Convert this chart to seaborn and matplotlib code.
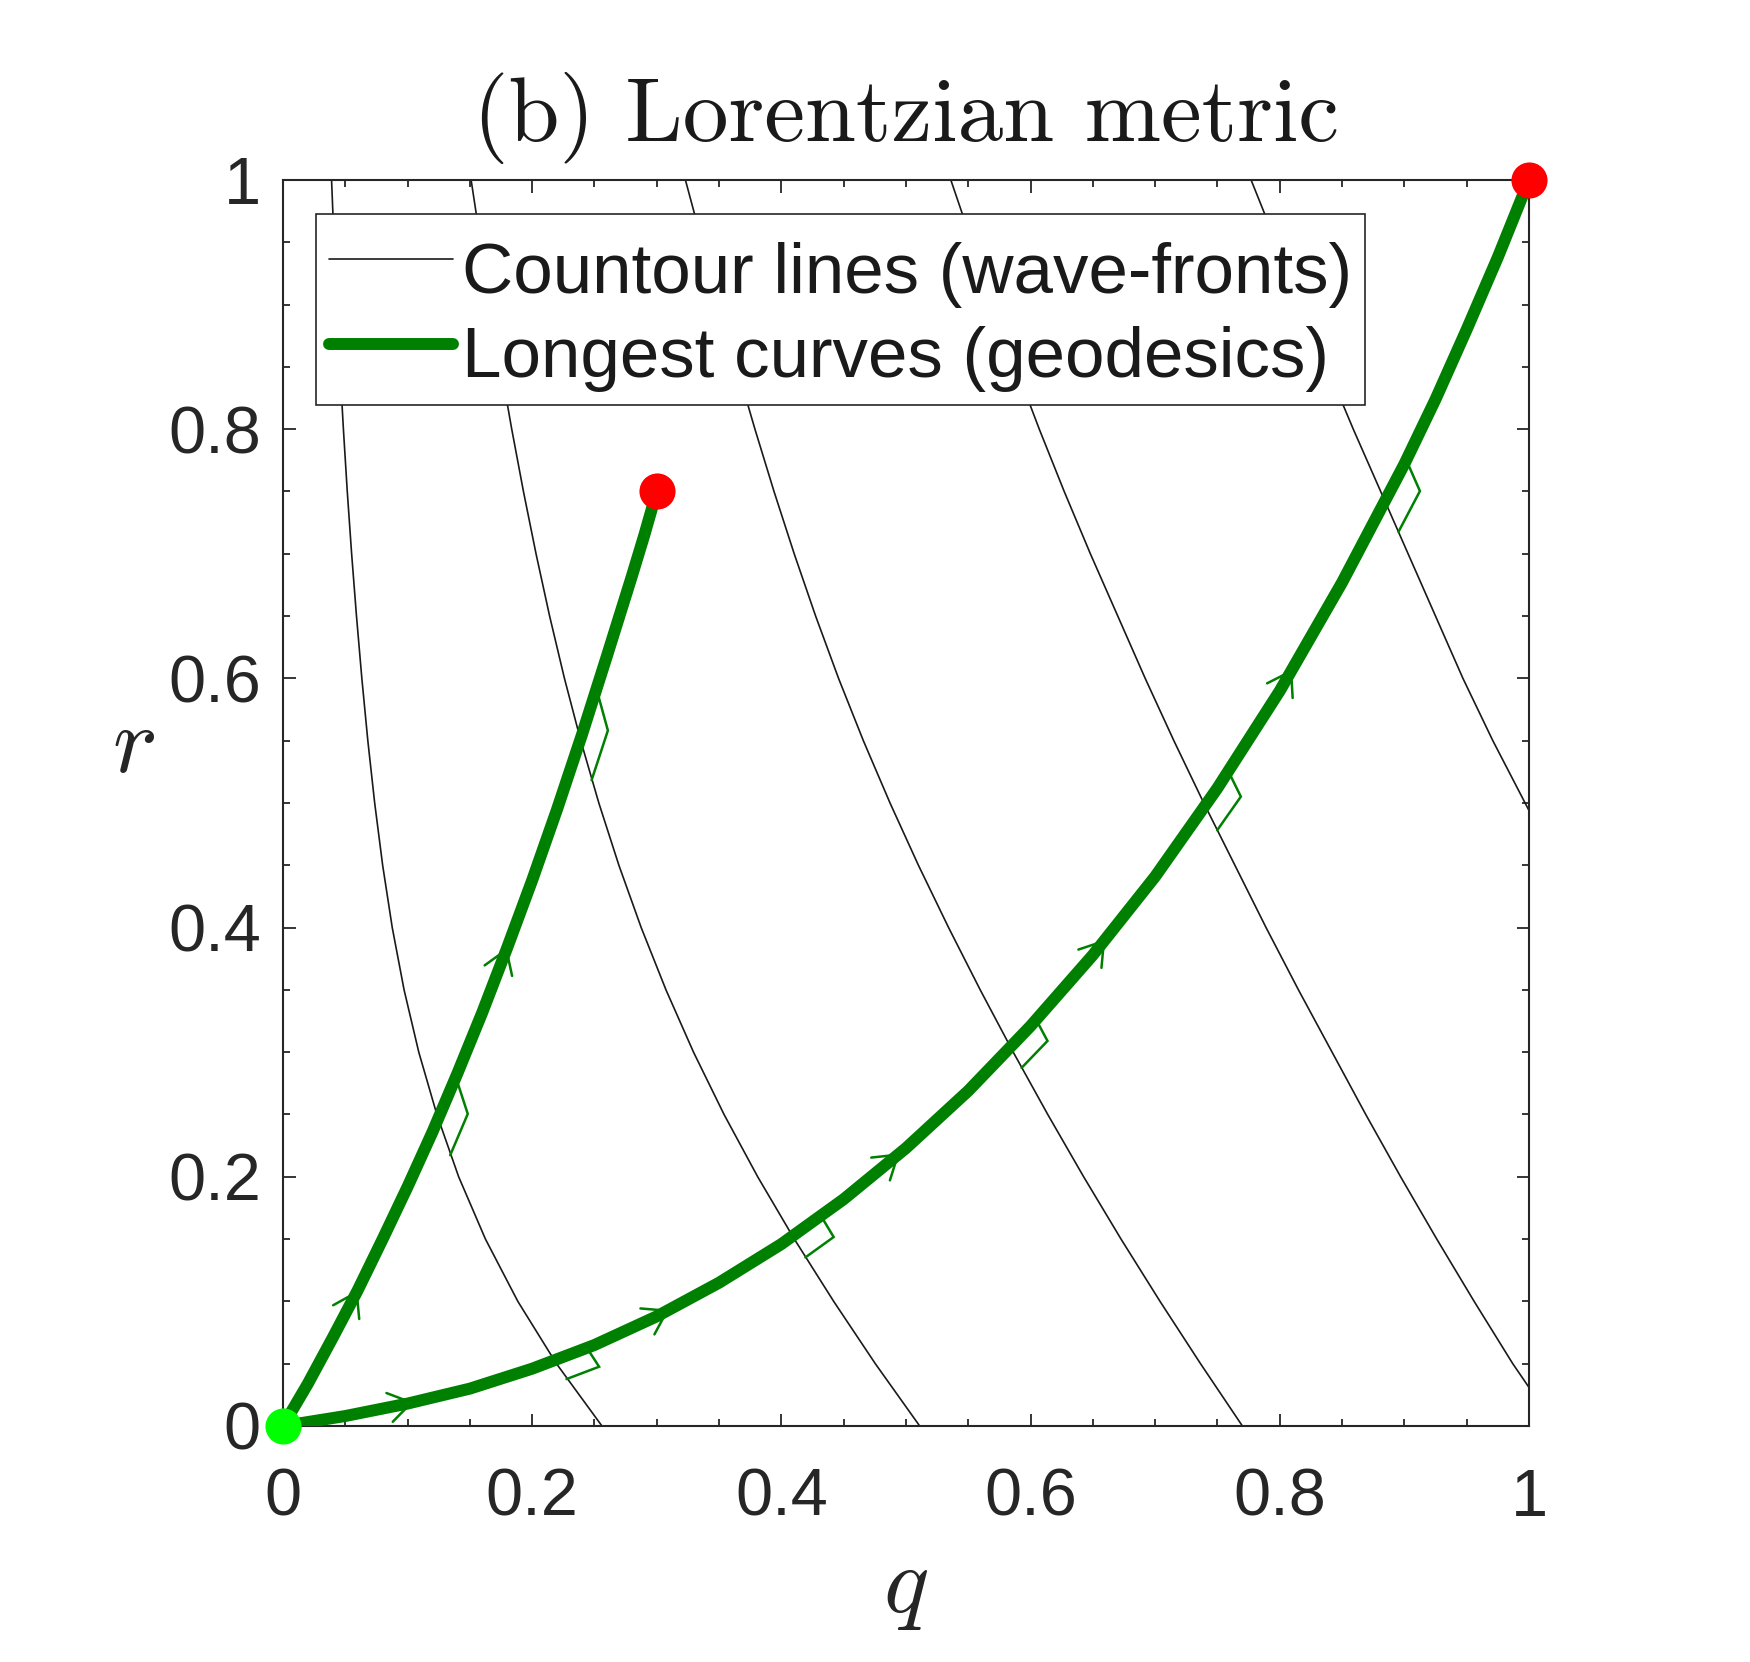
import numpy as np
import pandas as pd
import seaborn as sns
import matplotlib
matplotlib.use("Agg")
import matplotlib.pyplot as plt
from matplotlib.lines import Line2D
from matplotlib.offsetbox import DrawingArea
from matplotlib.ticker import MultipleLocator

# ---- data ----
# longest curves (geodesics), q -> r
geo_a_q = [0.00, 0.02, 0.04, 0.06, 0.08, 0.10, 0.12, 0.14, 0.16, 0.18, 0.20, 0.22, 0.24, 0.26, 0.28, 0.29, 0.30]
geo_a_r = [0.000, 0.034, 0.071, 0.109, 0.150, 0.192, 0.236, 0.283, 0.332, 0.384, 0.438, 0.495, 0.555, 0.618, 0.682, 0.715, 0.750]
geo_b_q = [0.00, 0.05, 0.10, 0.15, 0.20, 0.25, 0.30, 0.35, 0.40, 0.45, 0.50, 0.55, 0.60, 0.65, 0.70,
           0.75, 0.80, 0.85, 0.90, 0.925, 0.95, 0.975, 1.00]
geo_b_r = [0.000, 0.008, 0.018, 0.030, 0.046, 0.065, 0.088, 0.115, 0.146, 0.182, 0.223, 0.269, 0.321, 0.378, 0.441,
           0.512, 0.590, 0.677, 0.772, 0.824, 0.880, 0.938, 1.000]

# contour lines (wave-fronts), listed from the top edge downwards
levels_r = [1.00, 0.95, 0.90, 0.85, 0.80, 0.75, 0.70, 0.65, 0.60, 0.55, 0.50,
            0.45, 0.40, 0.35, 0.30, 0.25, 0.20, 0.15, 0.10, 0.05, 0.00]
c1_q = [0.039, 0.041, 0.0432, 0.0457, 0.0485, 0.0516, 0.0551, 0.059, 0.0633, 0.0681, 0.0736,
        0.080, 0.0877, 0.0972, 0.109, 0.1235, 0.141, 0.1625, 0.1885, 0.2195, 0.256]
c2_q = [0.151, 0.1586, 0.1665, 0.1748, 0.1836, 0.193, 0.2031, 0.214, 0.2259, 0.239, 0.2535,
        0.2696, 0.2875, 0.3074, 0.3295, 0.354, 0.381, 0.4104, 0.442, 0.4754, 0.511]
c3_q = [0.323, 0.3364, 0.3501, 0.3642, 0.3788, 0.3941, 0.4103, 0.4275, 0.4459, 0.4658, 0.4872,
        0.510, 0.5342, 0.5596, 0.5861, 0.6138, 0.6426, 0.6726, 0.7039, 0.7364, 0.770]
c4_r = [1.00, 0.95, 0.90, 0.85, 0.80, 0.75, 0.70, 0.65, 0.60, 0.55, 0.50,
        0.45, 0.40, 0.35, 0.30, 0.25, 0.20, 0.15, 0.10, 0.05, 0.031]
c4_q = [0.536, 0.553, 0.570, 0.588, 0.607, 0.627, 0.648, 0.670, 0.692, 0.715, 0.739,
        0.764, 0.789, 0.815, 0.842, 0.869, 0.897, 0.926, 0.956, 0.987, 1.000]
c5_r = [1.00, 0.95, 0.90, 0.85, 0.80, 0.75, 0.70, 0.65, 0.60, 0.55, 0.494]
c5_q = [0.777, 0.797, 0.817, 0.838, 0.859, 0.881, 0.903, 0.925, 0.947, 0.971, 1.000]

start_pt = (0.0, 0.0)
end_q = [0.30, 1.00]
end_r = [0.75, 1.00]

# where the direction arrows sit on each geodesic (q values)
arrows_a = [0.06, 0.18]
arrows_b = [0.105, 0.31, 0.495, 0.66, 0.81]

tick_vals = [0, 0.2, 0.4, 0.6, 0.8, 1]
tick_labels = ['0', '0.2', '0.4', '0.6', '0.8', '1']
legend_labels = ['Countour lines (wave-fronts)', 'Longest curves (geodesics)']

# ---- styling ----
green = (0, 0.5, 0)
dark = '#262626'
# right-angle marks: (geodesic, contour, side along geodesic, side along contour)
marks = [(0, 0, 0.036, 0.031), (0, 1, 0.042, 0.034),
         (1, 0, 0.028, 0.018), (1, 1, 0.028, 0.020), (1, 2, 0.030, 0.019),
         (1, 3, 0.033, 0.022), (1, 4, 0.037, 0.027)]

sns.set_theme(style='white')
plt.rcParams['font.family'] = ['Liberation Sans', 'DejaVu Sans']
plt.rcParams['mathtext.fontset'] = 'cm'

contours = [(c1_q, levels_r), (c2_q, levels_r), (c3_q, levels_r), (c4_q, c4_r), (c5_q, c5_r)]
geos = [(geo_a_q, geo_a_r), (geo_b_q, geo_b_r)]

cont_df = pd.concat([pd.DataFrame({'q': q, 'r': r, 'curve': i}) for i, (q, r) in enumerate(contours)])
geo_df = pd.concat([pd.DataFrame({'q': q, 'r': r, 'curve': i}) for i, (q, r) in enumerate(geos)])

fig = plt.figure(figsize=(17.5, 16.62), dpi=100)
ax = fig.add_axes([0.1617, 0.1420, 0.7120, 0.7497])

sns.lineplot(data=cont_df, x='q', y='r', units='curve', estimator=None, sort=False,
             color='k', linewidth=1.2, ax=ax, legend=False, zorder=2)
sns.lineplot(data=geo_df, x='q', y='r', units='curve', estimator=None, sort=False,
             color=green, linewidth=8.6, ax=ax, legend=False, zorder=3,
             solid_joinstyle='round')


def crossing(gq, gr, cq, cr):
    lo, hi = max(gq[0], cq[0]), min(gq[-1], cq[-1])
    qq = np.linspace(lo, hi, 4001)
    d = np.interp(qq, gq, gr) - np.interp(qq, cq, cr)
    i = np.where(np.diff(np.sign(d)) != 0)[0][0]
    return np.array([qq[i], np.interp(qq[i], gq, gr)])


def direction(xq, xr, q0, h=0.004):
    a = np.array([q0 - h, np.interp(q0 - h, xq, xr)])
    b = np.array([q0 + h, np.interp(q0 + h, xq, xr)])
    v = b - a
    return v / np.hypot(*v)


# right-angle marks where the geodesics cut the wave-fronts
for gi, ci, sg, sc in marks:
    gq, gr = np.array(geos[gi][0]), np.array(geos[gi][1])
    cq, cr = np.array(contours[ci][0]), np.array(contours[ci][1])
    p = crossing(gq, gr, cq, cr)
    u = direction(gq, gr, p[0])
    v = direction(cq, cr, p[0])
    pts = np.array([p + sg * u, p + sg * u + sc * v, p + sc * v])
    ax.plot(pts[:, 0], pts[:, 1], color=green, lw=1.8, zorder=4, solid_joinstyle='miter')

# direction arrows
for (gq, gr), qs in zip(geos, [arrows_a, arrows_b]):
    for q0 in qs:
        tip = (q0, np.interp(q0, gq, gr))
        back = (q0 - 0.01, np.interp(q0 - 0.01, gq, gr))
        ax.annotate('', xy=tip, xytext=back, zorder=4,
                    arrowprops=dict(arrowstyle='->,head_length=0.81,head_width=0.53',
                                    color=green, lw=1.8, shrinkA=0, shrinkB=0,
                                    mutation_scale=20))

ax.plot(end_q, end_r, 'o', color=(1, 0, 0), ms=26, mec='none', clip_on=False, zorder=6)
ax.plot([start_pt[0]], [start_pt[1]], 'o', color=(0, 1, 0), ms=26, mec='none', clip_on=False, zorder=6)

ax.set_xlim(0, 1)
ax.set_ylim(0, 1)
ax.set_xticks(tick_vals)
ax.set_xticklabels(tick_labels)
ax.set_yticks(tick_vals)
ax.set_yticklabels(tick_labels)
ax.xaxis.set_minor_locator(MultipleLocator(0.05))
ax.yaxis.set_minor_locator(MultipleLocator(0.05))
ax.tick_params(which='both', direction='in', top=True, right=True, bottom=True, left=True,
               color=dark, width=1.3)
ax.tick_params(which='major', length=9, labelsize=48, labelcolor=dark)
ax.tick_params(which='minor', length=4.7)
ax.tick_params(axis='x', which='major', pad=30)
ax.tick_params(axis='y', which='major', pad=16)
for s in ax.spines.values():
    s.set_color(dark)
    s.set_linewidth(1.5)

ax.set_title('(b) Lorentzian metric', fontfamily='cmr10', fontsize=66, pad=28, color='k')
ax.set_xlabel(r'$q$', fontsize=68, color=dark, va='baseline')
ax.xaxis.set_label_coords(0.5, -0.149)
ax.set_ylabel(r'$r$', fontsize=68, color=dark, rotation=0, ha='center', va='baseline')
ax.yaxis.set_label_coords(-0.12, 0.525)

handles = [Line2D([], [], color='k', lw=1.2), Line2D([], [], color=green, lw=8.6)]
leg = ax.legend(handles, legend_labels, loc='upper left', bbox_to_anchor=(0.0265, 0.973),
                borderaxespad=0, fontsize=51, handlelength=1.75, handleheight=1.48,
                handletextpad=0.137, borderpad=0.18, labelspacing=0.05, frameon=True,
                fancybox=False, framealpha=1, edgecolor=dark)
leg.get_frame().set_linewidth(1.2)
for t in leg.get_texts():
    t.set_color('k')
# drop the handle boxes' extra depth below the baseline so the frame hugs the text
for da in leg.findobj(DrawingArea):
    da.height = da.height - da.ydescent
    da.ydescent = 0

fig.savefig('out.png', dpi=100, facecolor='white')
